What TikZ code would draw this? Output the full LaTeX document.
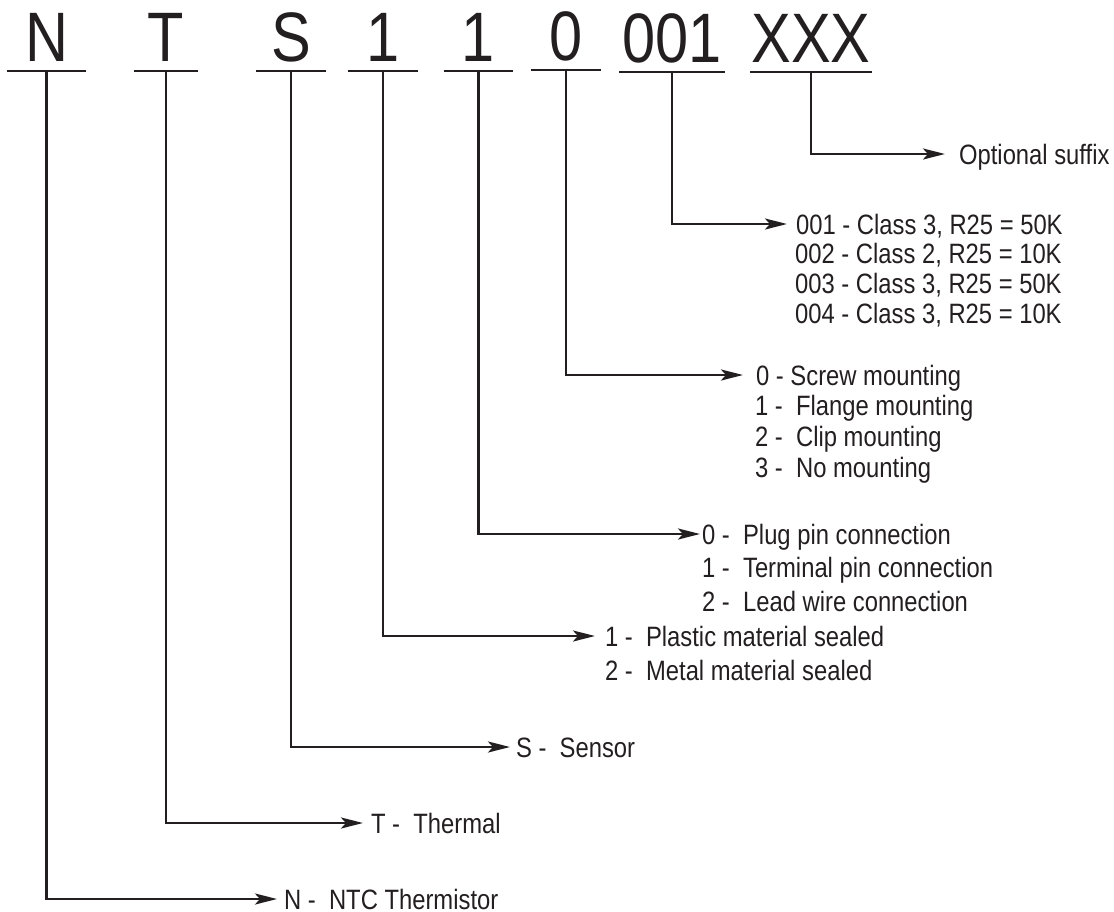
\documentclass[tikz,border=0pt]{standalone}
\usepackage{fontspec}
\setmainfont{Liberation Sans}[FakeStretch=0.85]
\usepackage{tikz}
\usetikzlibrary{arrows.meta,positioning}
\definecolor{ink}{HTML}{231F20}
\tikzset{
	code/.style={font=\fontsize{70}{70}\selectfont, inner sep=0pt,
		text height=50pt, text depth=8pt, anchor=south},
	lbl/.style={font=\fontsize{28}{28}\selectfont, inner sep=0pt,
		text height=20pt, text depth=0pt, anchor=west},
	bar/.style={line width=2.5pt},
	leader/.style={line width=2.6pt, -{Stealth[length=22pt, width=11pt, inset=5pt]}}
}

\begin{document}
\begin{tikzpicture}[x=1pt, y=-1pt, ink, line width=2.2pt]
	\useasboundingbox (0,0) rectangle (1114,911);
	\node[code, minimum width=77pt] (cN) at (46.5,71) {N};
	\node[code, minimum width=62pt] (cT) at (166,71) {T};
	\node[code, minimum width=68pt] (cS) at (291,71) {S};
	\node[code, minimum width=68pt] (cSeal) at (383,71) {1};
	\node[code, minimum width=67pt] (cPin) at (478.5,71) {1};
	\node[code, minimum width=68pt] (cMount) at (566,70) {0};
	\node[code, minimum width=103pt] (cRes) at (672,72) {001};
	\node[code, minimum width=119pt] (cSfx) at (811,72) {XXX};
	\foreach \c in {cN,cT,cS,cSeal,cPin,cMount,cRes,cSfx}
		\draw[bar] (\c.south west) -- (\c.south east);

	\coordinate (tN) at (277,899);
	\coordinate (tT) at (363,823);
	\coordinate (tS) at (510,747);
	\coordinate (tSeal) at (595,636);
	\coordinate (tPin) at (700,534);
	\coordinate (tMount) at (743,375);
	\coordinate (tRes) at (787,224);
	\coordinate (tSfx) at (945,154);
	\foreach \c in {N,T,S,Seal,Pin,Mount,Res,Sfx}
		\draw[leader] (c\c.south) |- (t\c);

	\node[lbl, right=6pt of tN] (lN) {N -\ \ NTC Thermistor};
	\node[lbl, right=7pt of tT] (lT) {T -\ \ Thermal};
	\node[lbl, right=5pt of tS] (lS) {S -\ \ Sensor};

	\node[lbl, right=9pt of tSeal] (lSeal1) {1 -\ \ Plastic material sealed};
	\node[lbl, below right=12pt and 0pt of lSeal1.south west] (lSeal2) {2 -\ \ Metal material sealed};

	\node[lbl, right=1pt of tPin] (lPin1) {0 -\ \ Plug pin connection};
	\node[lbl, below right=11.5pt and 0pt of lPin1.south west] (lPin2) {1 -\ \ Terminal pin connection};
	\node[lbl, below right=11.5pt and 0pt of lPin2.south west] (lPin3) {2 -\ \ Lead wire connection};

	\node[lbl, right=12pt of tMount] (lMount1) {0 - Screw mounting};
	\node[lbl, below right=8.5pt and -1pt of lMount1.south west] (lMount2) {1 -\ \ Flange mounting};
	\node[lbl, below right=8.5pt and 0pt of lMount2.south west] (lMount3) {2 -\ \ Clip mounting};
	\node[lbl, below right=8.5pt and 0pt of lMount3.south west] (lMount4) {3 -\ \ No mounting};

	\node[lbl, right=8pt of tRes] (lRes1) {001 - Class 3, R25 = 50K};
	\node[lbl, below right=7.5pt and -1pt of lRes1.south west] (lRes2) {002 - Class 2, R25 = 10K};
	\node[lbl, below right=7.5pt and 0pt of lRes2.south west] (lRes3) {003 - Class 3, R25 = 50K};
	\node[lbl, below right=7.5pt and 0pt of lRes3.south west] (lRes4) {004 - Class 3, R25 = 10K};

	\node[lbl, right=13pt of tSfx] (lSfx) {Optional suffix};
\end{tikzpicture}
\end{document}
